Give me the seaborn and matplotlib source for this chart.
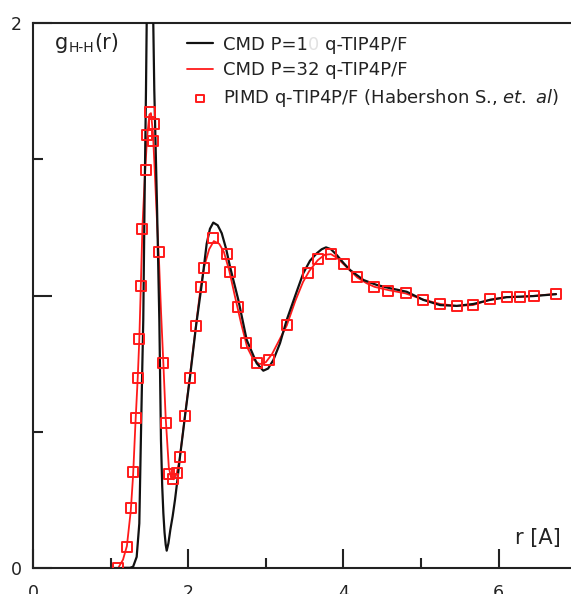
import matplotlib
matplotlib.use("Agg")
import matplotlib.pyplot as plt
import seaborn as sns
from matplotlib.ticker import FixedLocator

# ---------------- data ----------------
r_cmd1 = [1.15, 1.25, 1.29, 1.336, 1.37, 1.39, 1.405, 1.421, 1.437, 1.456, 1.465,
          1.48, 1.495, 1.508, 1.52, 1.535, 1.55, 1.563, 1.58, 1.598, 1.613, 1.628,
          1.649, 1.665, 1.68, 1.695, 1.71, 1.723, 1.745, 1.77, 1.80, 1.83, 1.86,
          1.894, 1.93, 1.959, 2.023, 2.10, 2.174, 2.238, 2.28, 2.323, 2.38, 2.432,
          2.49, 2.539, 2.646, 2.754, 2.883, 2.968, 3.03, 3.097, 3.183, 3.269, 3.38,
          3.483, 3.57, 3.656, 3.72, 3.776, 3.84, 3.914, 4.00, 4.085, 4.259, 4.429,
          4.60, 4.816, 5.03, 5.245, 5.46, 5.674, 5.889, 6.104, 6.447, 6.74]
g_cmd1 = [0.0, 0.0, 0.004, 0.04, 0.163, 0.47, 0.69, 0.91, 1.33, 1.755, 2.0,
          2.2, 2.33, 2.37, 2.33, 2.2, 2.0, 1.755, 1.55, 1.33, 1.12, 0.91,
          0.47, 0.30, 0.20, 0.13, 0.085, 0.063, 0.09, 0.14, 0.19, 0.25, 0.32,
          0.408, 0.49, 0.558, 0.70, 0.886, 1.04, 1.19, 1.245, 1.268, 1.258, 1.229,
          1.17, 1.106, 0.984, 0.837, 0.751, 0.724, 0.732, 0.763, 0.825, 0.910, 1.00,
          1.082, 1.128, 1.155, 1.170, 1.177, 1.170, 1.149, 1.12, 1.094, 1.057, 1.039,
          1.027, 1.014, 0.984, 0.965, 0.962, 0.969, 0.984, 0.994, 0.998, 1.005]

r_cmd32 = [1.00, 1.10, 1.16, 1.21, 1.26, 1.29, 1.32, 1.35, 1.37, 1.39, 1.41, 1.44,
           1.47, 1.50, 1.52, 1.545, 1.57, 1.60, 1.625, 1.65, 1.68, 1.71, 1.75, 1.78,
           1.81, 1.85, 1.89, 1.95, 2.02, 2.10, 2.16, 2.21, 2.27, 2.33, 2.40, 2.46,
           2.53, 2.60, 2.68, 2.76, 2.84, 2.92, 3.00, 3.08, 3.18, 3.27, 3.38, 3.48,
           3.56, 3.67, 3.76, 3.84, 3.92, 4.01, 4.10, 4.18, 4.30, 4.40, 4.58, 4.80,
           5.03, 5.25, 5.46, 5.67, 5.89, 6.11, 6.28, 6.46, 6.74]
g_cmd32 = [0.0, 0.0, 0.03, 0.08, 0.21, 0.34, 0.53, 0.70, 0.84, 1.04, 1.25, 1.43,
           1.58, 1.665, 1.67, 1.60, 1.45, 1.26, 1.12, 0.94, 0.75, 0.55, 0.37, 0.33,
           0.325, 0.345, 0.40, 0.54, 0.70, 0.89, 1.03, 1.11, 1.17, 1.20, 1.19, 1.16,
           1.09, 1.00, 0.90, 0.81, 0.765, 0.748, 0.755, 0.785, 0.84, 0.89, 0.98, 1.05,
           1.09, 1.13, 1.15, 1.152, 1.138, 1.113, 1.088, 1.066, 1.045, 1.032, 1.02, 1.008,
           0.985, 0.969, 0.962, 0.965, 0.985, 0.995, 0.995, 0.999, 1.006]

r_pimd = [1.099, 1.207, 1.263, 1.293, 1.323, 1.349, 1.370, 1.388, 1.408, 1.452,
          1.465, 1.508, 1.559, 1.550, 1.624, 1.679, 1.714, 1.753, 1.808, 1.852,
          1.894, 1.959, 2.023, 2.101, 2.161, 2.204, 2.323, 2.496, 2.539, 2.638,
          2.745, 2.890, 3.045, 3.269, 3.548, 3.669, 3.840, 4.008, 4.179, 4.394,
          4.579, 4.807, 5.030, 5.245, 5.460, 5.666, 5.889, 6.112, 6.276, 6.456, 6.740]
g_pimd = [0.000, 0.075, 0.219, 0.351, 0.549, 0.698, 0.839, 1.035, 1.245, 1.461,
          1.590, 1.676, 1.629, 1.568, 1.159, 0.751, 0.533, 0.345, 0.325, 0.347,
          0.408, 0.558, 0.696, 0.888, 1.030, 1.100, 1.211, 1.152, 1.088, 0.959,
          0.827, 0.753, 0.763, 0.892, 1.082, 1.134, 1.152, 1.115, 1.067, 1.030,
          1.018, 1.008, 0.984, 0.969, 0.962, 0.964, 0.986, 0.996, 0.994, 0.999, 1.006]

x_major = [0, 2, 4, 6]
x_minor = [1, 3, 5]
y_major = [0, 1, 2]
y_minor = [0.5, 1.5]
x_labels = ["0", "2", "4", "6"]
y_labels = ["0", "", "2"]

label_cmd1 = "CMD P=1\u2007 q-TIP4P/F"
label_cmd32 = "CMD P=32 q-TIP4P/F"
label_pimd = r"PIMD q-TIP4P/F (Habershon S., $\mathit{et.}$ $\mathit{al}$)"

# ---------------- style ----------------
sns.set_theme(style="white")
plt.rcParams["font.family"] = ["DejaVu Sans"]
plt.rcParams["mathtext.fontset"] = "custom"
plt.rcParams["mathtext.rm"] = "DejaVu Sans"
plt.rcParams["mathtext.it"] = "DejaVu Sans:italic"

W, H = 571, 594
TXT = "#222222"
fig = plt.figure(figsize=(W / 100, H / 100), dpi=100)
ax = fig.add_axes([33 / W, 26.2 / H, 7 * 77.6 / W, 544.5 / H])

sns.lineplot(x=r_cmd32, y=g_cmd32, ax=ax, color="#ff1a1a", lw=1.3,
             sort=False, estimator=None, zorder=2)
sns.lineplot(x=r_cmd1, y=g_cmd1, ax=ax, color="#111111", lw=1.6,
             sort=False, estimator=None, zorder=3)
sns.scatterplot(x=r_pimd, y=g_pimd, ax=ax, marker="s", s=52, zorder=4)
coll = ax.collections[-1]
coll.set_facecolor("none")
coll.set_edgecolor("#ff1a1a")
coll.set_linewidth(1.4)

line32, line1 = ax.lines[0], ax.lines[1]

ax.set_xlim(0, 7)
ax.set_ylim(0, 2)
ax.xaxis.set_major_locator(FixedLocator(x_major))
ax.xaxis.set_minor_locator(FixedLocator(x_minor))
ax.yaxis.set_major_locator(FixedLocator(y_major))
ax.yaxis.set_minor_locator(FixedLocator(y_minor))
ax.set_xticklabels(x_labels)
ax.set_yticklabels(y_labels)
ax.set_xlabel("")
ax.set_ylabel("")

ax.tick_params(which="both", direction="in", bottom=True, left=True,
               top=False, right=False, color=TXT, width=1.5)
ax.tick_params(which="major", length=14)
ax.tick_params(which="minor", length=7)
ax.tick_params(axis="x", pad=12, labelsize=12.5, labelcolor=TXT)
ax.tick_params(axis="y", pad=8, labelsize=12.5, labelcolor=TXT)

for side in ["top", "left", "bottom"]:
    ax.spines[side].set_visible(True)
    ax.spines[side].set_color(TXT)
    ax.spines[side].set_linewidth(1.5)
ax.spines["right"].set_visible(False)

# y-label inside the axes
t_g = ax.text(0.28, 1.905, "g", fontsize=15, color=TXT, va="baseline")
t_sub = ax.annotate("H-H", xy=(1, 0), xycoords=t_g, xytext=(0.3, 0.5),
                    textcoords="offset points", fontsize=10, color=TXT,
                    va="baseline")
ax.annotate("(r)", xy=(1, 0), xycoords=(t_sub, t_g), xytext=(0.5, 0),
            textcoords="offset points", fontsize=15, color=TXT, va="bottom")

ax.text(6.80, 0.086, "r [A]", fontsize=15, color=TXT, ha="right",
        va="baseline")

leg = ax.legend(handles=[line1, line32, coll],
                labels=[label_cmd1, label_cmd32, label_pimd],
                loc="upper left", bbox_to_anchor=(187 / W, 1 - 35.5 / H),
                bbox_transform=fig.transFigure, frameon=False, fontsize=13,
                handlelength=1.44, handletextpad=0.54, labelspacing=0.44,
                borderpad=0, borderaxespad=0, markerscale=0.72)
for t in leg.get_texts():
    t.set_color(TXT)

# faint digit in the first legend entry, as in the reference
fig.canvas.draw()
renderer = fig.canvas.get_renderer()
t0 = leg.get_texts()[0]
bb = t0.get_window_extent(renderer)
tmp = fig.text(0, 0, "CMD P=1", fontproperties=t0.get_fontproperties())
w = tmp.get_window_extent(renderer).width
tmp.remove()
fig.text((bb.x0 + w) / W, bb.y0 / H, "0", fontproperties=t0.get_fontproperties(),
         color="#e2e2e2", va="bottom", ha="left")

fig.savefig("out.png", dpi=100)
